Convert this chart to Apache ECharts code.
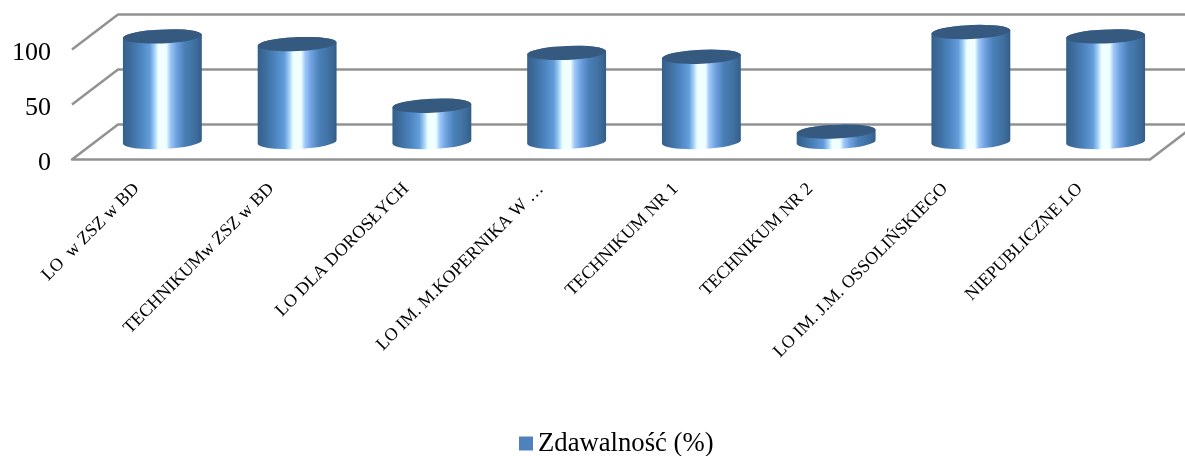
<!DOCTYPE html>
<html>
<head>
<meta charset="utf-8">
<style>
  html, body { margin: 0; padding: 0; background: #fff; }
  #chart { width: 1185px; height: 456px; }
</style>
<script src="https://cdn.jsdelivr.net/npm/echarts@6/dist/echarts.min.js"></script>
</head>
<body>
<div id="chart"></div>
<script>
const categories = [
    'LO  w ZSZ w BD',
    'TECHNIKUMw ZSZ w BD',
    'LO DLA DOROSŁYCH',
    'LO IM. M.KOPERNIKA W …',
    'TECHNIKUM NR 1',
    'TECHNIKUM NR 2',
    'LO IM. J.M. OSSOLIŃSKIEGO',
    'NIEPUBLICZNE LO'
];
const passRate = [96, 89, 33, 81, 77.5, 9.5, 100, 96];
const wallTicks = [0, 50, 100];

const FONT = '"Liberation Serif", "Times New Roman", serif';
const GRID_COLOR = '#929292';
// przesuniecie "glebokosci" wykresu 3D
const DEPTH_X = 46;
const DEPTH_Y = 35;
const TILT = -2.5 * Math.PI / 180;

const bodyGradient = new echarts.graphic.LinearGradient(0, 0, 1, 0, [
    { offset: 0, color: '#34608c' },
    { offset: 0.08, color: '#3c6a9a' },
    { offset: 0.22, color: '#4b83bd' },
    { offset: 0.34, color: '#649cdb' },
    { offset: 0.4, color: '#a0d0f5' },
    { offset: 0.45, color: '#f0ffff' },
    { offset: 0.55, color: '#f0ffff' },
    { offset: 0.6, color: '#9fc8f8' },
    { offset: 0.68, color: '#6ea0e0' },
    { offset: 0.78, color: '#4a80b8' },
    { offset: 0.92, color: '#3e6e9e' },
    { offset: 1, color: '#345d88' }
]);

function renderWall(params, api) {
    const rect = params.coordSys;
    const y = api.coord([0, api.value(1)])[1];
    const children = [{
        type: 'polyline',
        shape: { points: [
            [rect.x, y],
            [rect.x + DEPTH_X, y - DEPTH_Y],
            [rect.x + rect.width + DEPTH_X, y - DEPTH_Y]
        ] },
        style: { fill: null, stroke: GRID_COLOR, lineWidth: 2.5 }
    }];
    if (api.value(1) === 0) {
        children.push({
            type: 'line',
            shape: {
                x1: rect.x + rect.width, y1: y,
                x2: rect.x + rect.width + DEPTH_X, y2: y - DEPTH_Y
            },
            style: { stroke: GRID_COLOR, lineWidth: 2.5 }
        });
    }
    return { type: 'group', children };
}

function renderCylinder(params, api) {
    const base = api.coord([api.value(0), 0]);
    const top = api.coord([api.value(0), api.value(1)]);
    const cx = base[0] + DEPTH_X / 2;
    const yBase = base[1] - DEPTH_Y / 2;
    const yTop = top[1] - DEPTH_Y / 2;
    const rx = api.size([1, 0])[0] * 0.293;
    const ry = 7;
    const dx = rx * Math.cos(TILT);
    const dy = rx * Math.sin(TILT);
    const rot = TILT * 180 / Math.PI;

    const body = `M ${cx - dx} ${yTop - dy} L ${cx - dx} ${yBase - dy} `
        + `A ${rx} ${ry} ${rot} 0 0 ${cx + dx} ${yBase + dy} `
        + `L ${cx + dx} ${yTop + dy} `
        + `A ${rx} ${ry} ${rot} 0 0 ${cx - dx} ${yTop - dy} Z`;
    const cap = `M ${cx - dx} ${yTop - dy} `
        + `A ${rx} ${ry} ${rot} 0 1 ${cx + dx} ${yTop + dy} `
        + `A ${rx} ${ry} ${rot} 0 1 ${cx - dx} ${yTop - dy} Z`;

    return {
        type: 'group',
        children: [
            { type: 'path', shape: { pathData: body }, style: { fill: bodyGradient } },
            { type: 'path', shape: { pathData: cap }, style: { fill: '#35597f' } }
        ]
    };
}

const chart = echarts.init(document.getElementById('chart'), null, { renderer: 'canvas' });

chart.setOption({
    animation: false,
    backgroundColor: '#fff',
    grid: { left: 72, right: 35, top: 49.5, bottom: 296.5 },
    legend: {
        left: 519,
        top: 430,
        data: [{ name: 'Zdawalność (%)', icon: 'rect' }],
        itemWidth: 14,
        itemHeight: 14,
        itemGap: 5,
        padding: 0,
        textStyle: { fontFamily: FONT, fontSize: 26.7, color: '#000', padding: 0 }
    },
    xAxis: {
        type: 'category',
        data: categories,
        axisTick: { show: false },
        axisLine: { lineStyle: { color: GRID_COLOR, width: 2.5 } },
        axisLabel: {
            interval: 0,
            rotate: 45,
            margin: 24,
            padding: [0, 4, 0, 0],
            fontFamily: FONT,
            fontSize: 18,
            color: '#000'
        }
    },
    yAxis: {
        type: 'value',
        min: 0,
        max: 100,
        interval: 50,
        axisLine: { show: false },
        axisTick: { show: false },
        splitLine: { show: false },
        axisLabel: {
            margin: 21,
            verticalAlign: 'top',
            lineHeight: 8,
            fontFamily: FONT,
            fontSize: 26,
            color: '#000'
        }
    },
    series: [
        {
            name: 'walls',
            type: 'custom',
            clip: false,
            silent: true,
            renderItem: renderWall,
            data: wallTicks.map(v => [0, v]),
            z: 1
        },
        {
            name: 'Zdawalność (%)',
            type: 'custom',
            clip: false,
            renderItem: renderCylinder,
            itemStyle: { color: '#4f81bd' },
            encode: { x: 0, y: 1 },
            data: passRate.map((v, i) => [i, v]),
            z: 2
        }
    ]
});
</script>
</body>
</html>
